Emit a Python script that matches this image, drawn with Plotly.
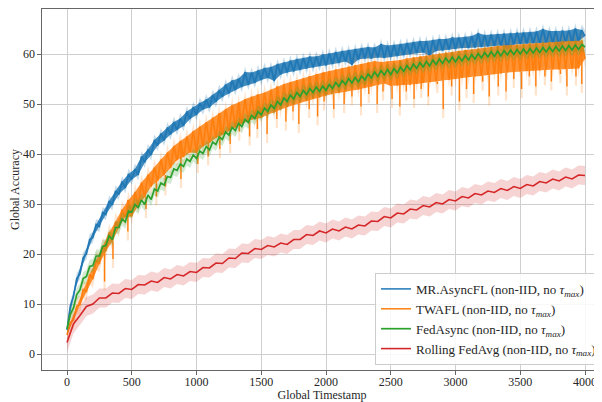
import plotly.graph_objects as go

# ---------------- data ----------------
t_fine = list(range(0, 4001, 25))     # timestamps for MR.AsyncFL, TWAFL, FedAsync
t_coarse = list(range(0, 4001, 50))   # timestamps for Rolling FedAvg

mr_asyncfl = [4.8, 9.5, 11.5, 15.1, 16.0, 19.3, 20.0, 22.9, 23.3, 25.9,
              25.5, 28.3, 27.9, 30.6, 29.8, 32.6, 31.9, 34.5, 33.2, 36.0,
              34.9, 37.0, 35.8, 39.5, 38.3, 40.9, 39.8, 42.8, 41.7, 44.1,
              42.7, 45.3, 43.9, 46.4, 44.8, 47.1, 45.6, 48.5, 47.0, 49.4,
              47.8, 50.2, 48.9, 50.9, 49.3, 51.8, 50.4, 52.8, 51.4, 53.9,
              52.1, 54.7, 52.8, 55.1, 53.4, 56.4, 53.8, 56.3, 54.2, 56.7,
              54.8, 57.2, 55.2, 57.4, 54.6, 58.0, 55.9, 58.3, 56.3, 58.7,
              56.5, 59.0, 56.8, 59.2, 57.1, 59.5, 57.3, 59.5, 57.6, 59.9,
              57.7, 60.1, 58.0, 60.4, 58.2, 60.6, 58.5, 60.8, 57.8, 61.0,
              58.9, 61.2, 59.1, 61.4, 59.1, 61.3, 59.3, 62.0, 59.2, 61.7,
              59.4, 61.8, 59.6, 62.0, 59.8, 62.2, 60.0, 62.4, 60.2, 62.6,
              60.3, 62.6, 59.6, 62.8, 60.6, 63.0, 60.7, 63.0, 60.9, 63.3,
              61.0, 63.3, 61.2, 63.4, 61.2, 63.6, 61.3, 64.2, 61.4, 63.8,
              61.5, 63.9, 61.6, 64.0, 61.7, 64.1, 61.0, 64.2, 61.9, 64.3,
              62.0, 64.3, 62.1, 64.4, 62.1, 64.5, 62.2, 65.0, 62.2, 64.6,
              62.3, 64.6, 61.5, 64.7, 62.4, 64.7, 62.4, 65.1, 62.5, 64.8,
              63.6]

twafl = [3.8, 6.3, 6.8, 9.6, 9.8, 13.0, 12.4, 15.9, 15.0, 18.8,
         18.0, 21.5, 20.6, 24.3, 22.5, 26.5, 25.2, 28.9, 27.4, 30.8,
         27.5, 32.4, 29.7, 34.3, 31.4, 35.9, 33.5, 37.3, 34.6, 38.9,
         35.8, 40.3, 37.2, 41.6, 38.8, 42.6, 39.4, 43.5, 40.3, 44.6,
         40.2, 45.5, 41.5, 46.4, 42.2, 47.3, 43.2, 48.2, 43.8, 49.0,
         44.6, 49.8, 45.3, 50.3, 46.0, 51.0, 46.6, 51.5, 47.0, 51.9,
         47.2, 52.3, 47.9, 52.9, 48.3, 53.5, 48.9, 54.0, 49.4, 54.4,
         49.8, 54.8, 50.2, 55.2, 50.6, 55.6, 51.0, 56.0, 51.3, 56.3,
         51.7, 56.6, 52.0, 56.9, 52.2, 57.2, 52.5, 57.5, 52.7, 57.8,
         52.9, 58.0, 53.2, 58.3, 53.5, 58.6, 53.7, 58.4, 54.1, 58.5,
         53.6, 58.6, 53.7, 58.8, 53.8, 59.1, 53.8, 59.3, 54.0, 59.5,
         54.2, 59.7, 54.3, 59.9, 54.5, 60.1, 54.7, 60.3, 54.8, 60.4,
         55.0, 60.6, 55.2, 60.8, 55.4, 60.9, 55.5, 61.1, 55.6, 61.3,
         55.8, 61.4, 56.0, 61.6, 56.1, 61.7, 56.3, 61.8, 56.4, 61.9,
         56.5, 62.0, 56.6, 62.1, 56.7, 62.2, 56.7, 62.3, 56.8, 62.4,
         56.9, 62.4, 56.9, 62.5, 57.0, 62.6, 57.1, 62.6, 57.1, 62.7,
         59.0]

# sharp downward dips of the TWAFL curve: timestamp and lowest accuracy
twafl_dip_t = [290, 355, 470, 610, 690, 760, 880, 1010, 1090, 1180, 1260, 1330, 1410, 1470,
               1545, 1620, 1690, 1745, 1790, 1870, 1935, 1985, 2060, 2140, 2200, 2270, 2330,
               2395, 2440, 2510, 2570, 2620, 2680, 2735, 2790, 2860, 2905, 2970, 3030, 3085,
               3140, 3210, 3260, 3330, 3390, 3450, 3510, 3570, 3620, 3690, 3740, 3810, 3860,
               3930, 3975]
twafl_dip_v = [14.5, 19.0, 24.5, 29.0, 31.5, 33.5, 35.0, 38.0, 39.5, 41.0, 42.0, 44.5, 43.5, 45.0,
               44.0, 47.0, 46.5, 48.5, 46.0, 49.0, 47.5, 50.5, 49.0, 50.0, 51.5, 49.5, 52.0,
               50.0, 52.5, 51.0, 49.5, 52.5, 51.0, 53.0, 51.5, 54.0, 49.0, 53.5, 50.5, 53.0,
               52.0, 54.5, 51.5, 53.5, 52.5, 55.0, 53.0, 55.5, 53.5, 55.5, 54.5, 56.0, 53.5,
               55.5, 54.0]

fedasync = [5.0, 7.9, 9.2, 11.9, 12.8, 15.1, 15.5, 17.5, 17.7, 19.6,
            19.6, 21.5, 21.7, 23.6, 22.9, 25.3, 25.3, 27.0, 26.4, 28.6,
            28.4, 29.9, 29.3, 30.8, 29.9, 31.8, 30.9, 33.0, 32.6, 34.2,
            33.8, 35.5, 35.3, 37.0, 36.7, 38.0, 37.5, 39.0, 38.5, 39.8,
            39.1, 40.6, 40.1, 41.5, 40.8, 42.4, 41.9, 43.4, 42.9, 44.4,
            43.8, 45.3, 44.7, 46.1, 45.5, 46.9, 46.3, 47.7, 47.1, 48.5,
            47.8, 49.2, 48.5, 49.8, 49.1, 50.5, 49.8, 51.2, 50.5, 51.8,
            51.0, 52.3, 51.5, 52.7, 51.9, 53.1, 52.3, 53.4, 52.5, 53.6,
            52.7, 53.9, 53.1, 54.3, 53.5, 54.7, 53.9, 55.1, 54.2, 55.3,
            54.4, 55.6, 54.8, 56.0, 55.2, 56.4, 55.5, 56.7, 55.8, 56.9,
            55.9, 57.1, 56.2, 57.4, 56.5, 57.7, 56.8, 58.0, 57.1, 58.3,
            57.4, 58.5, 57.6, 58.8, 57.9, 59.0, 58.1, 59.2, 58.3, 59.4,
            58.4, 59.5, 58.6, 59.7, 58.8, 59.9, 59.0, 60.1, 59.2, 60.3,
            59.4, 60.5, 59.5, 60.6, 59.6, 60.7, 59.8, 60.8, 59.9, 60.9,
            60.0, 61.0, 60.1, 61.1, 60.2, 61.2, 60.3, 61.3, 60.4, 61.4,
            60.5, 61.5, 60.6, 61.6, 60.7, 61.7, 60.8, 61.8, 60.9, 61.9,
            61.4]

rolling_fedavg = [2.3, 6.0, 7.7, 9.5, 10.0, 11.2, 11.2, 12.2, 12.1, 13.1, 12.9, 13.9, 13.8, 14.6, 14.3,
                  15.3, 15.0, 15.9, 15.6, 16.5, 16.3, 17.3, 17.2, 18.2, 18.1, 19.2, 19.1, 20.2, 20.1, 21.1,
                  20.9, 21.7, 21.4, 22.2, 21.9, 22.9, 22.9, 23.9, 23.7, 24.6, 24.2, 25.0, 24.6, 25.4, 25.0,
                  25.8, 25.6, 26.6, 26.5, 27.5, 27.2, 28.2, 28.0, 29.0, 28.8, 29.7, 29.4, 30.3, 30.0, 30.9,
                  30.6, 31.5, 31.2, 32.1, 31.8, 32.6, 32.3, 33.1, 32.7, 33.5, 33.1, 33.9, 33.6, 34.5, 34.2,
                  35.0, 34.6, 35.4, 35.0, 35.8, 35.7]

# spread (standard deviation) of each run
spread_mr = 1.1
spread_twafl = 1.8
spread_fedasync = 1.3
spread_rolling = 1.9

names = ["MR.AsyncFL (non-IID, no <i>τ</i><sub><i>max</i></sub>)",
         "TWAFL (non-IID, no <i>τ</i><sub><i>max</i></sub>)",
         "FedAsync (non-IID, no <i>τ</i><sub><i>max</i></sub>)",
         "Rolling FedAvg (non-IID, no <i>τ</i><sub><i>max</i></sub>)"]

x_ticks = [0, 500, 1000, 1500, 2000, 2500, 3000, 3500, 4000]
y_ticks = [0, 10, 20, 30, 40, 50, 60]

# ---------------- figure ----------------
colors = ["#1f77b4", "#ff7f0e", "#2ca02c", "#d62728"]
fills = ["rgba(31,119,180,0.25)", "rgba(255,127,14,0.2)", "rgba(44,160,44,0.22)", "rgba(214,39,40,0.2)"]
noise_fill = ["rgba(31,119,180,0.85)", "rgba(255,127,14,0.85)", None, None]

series = [
    (t_fine, mr_asyncfl, spread_mr, 1.5),
    (t_fine, twafl, spread_twafl, 1.5),
    (t_fine, fedasync, spread_fedasync, 1.7),
    (t_coarse, rolling_fedavg, spread_rolling, 1.6),
]

fig = go.Figure()
for k, (xs, ys, sd, lw) in enumerate(series):
    upper = [v + sd for v in ys]
    lower = [v - sd for v in ys]
    fig.add_trace(go.Scatter(x=xs, y=upper, mode="lines", line=dict(width=0, color=fills[k]),
                             showlegend=False, hoverinfo="skip"))
    fig.add_trace(go.Scatter(x=xs, y=lower, mode="lines", line=dict(width=0, color=fills[k]),
                             fill="tonexty", fillcolor=fills[k], showlegend=False, hoverinfo="skip"))
    if k == 1:
        # shaded extension of the dips
        sx, sy = [], []
        for t, v in zip(twafl_dip_t, twafl_dip_v):
            top = twafl[round(t / 25)]
            sx += [t, t, None]
            sy += [top, v - spread_twafl, None]
        fig.add_trace(go.Scatter(x=sx, y=sy, mode="lines", line=dict(width=2.2, color="rgba(255,127,14,0.22)"),
                                 showlegend=False, hoverinfo="skip", connectgaps=False))
    if noise_fill[k]:
        # the dense, noisy body of the curve: area between its low and high swings
        fig.add_trace(go.Scatter(x=xs[0::2], y=ys[0::2], mode="lines", line=dict(width=0),
                                 showlegend=False, hoverinfo="skip"))
        fig.add_trace(go.Scatter(x=xs[1::2], y=ys[1::2], mode="lines", line=dict(width=0),
                                 fill="tonexty", fillcolor=noise_fill[k],
                                 showlegend=False, hoverinfo="skip"))
    fig.add_trace(go.Scatter(x=xs, y=ys, mode="lines", name=names[k],
                             line=dict(color=colors[k], width=lw, simplify=False)))
    if k == 1:
        sx, sy = [], []
        for t, v in zip(twafl_dip_t, twafl_dip_v):
            top = twafl[round(t / 25)]
            sx += [t, t, None]
            sy += [top, v, None]
        fig.add_trace(go.Scatter(x=sx, y=sy, mode="lines", line=dict(width=1.4, color=colors[1]),
                                 showlegend=False, hoverinfo="skip", connectgaps=False))

font_family = "Liberation Serif, DejaVu Serif, serif"

# the page body adds an 8px offset, so the figure starts at (8, 8)
fig.update_layout(
    width=594, height=394,
    margin=dict(l=34, r=0, t=1, b=32),
    paper_bgcolor="white", plot_bgcolor="white",
    font=dict(family=font_family, size=12, color="#262626"),
    showlegend=True,
    legend=dict(x=1.0, y=0.014, xanchor="right", yanchor="bottom",
                traceorder="normal",
                bgcolor="rgba(255,255,255,0.85)", bordercolor="#cccccc", borderwidth=1,
                font=dict(family=font_family, size=13, color="#262626"),
                tracegroupgap=0, itemwidth=30),
)

fig.update_xaxes(
    range=[-193, 4131], tickvals=x_ticks, ticktext=[str(v) for v in x_ticks],
    showgrid=True, gridcolor="#cfcfcf", gridwidth=1, zeroline=False,
    showline=True, linecolor="#666666", linewidth=1.2, mirror=True,
    ticks="outside", ticklen=3.5, tickcolor="#666666", tickwidth=1,
    ticklabelstandoff=-3,
    title=dict(text="Global Timestamp", standoff=4, font=dict(size=12)),
    automargin=False,
)
fig.update_yaxes(
    range=[-3.2, 69.0], tickvals=y_ticks, ticktext=[str(v) for v in y_ticks],
    showgrid=True, gridcolor="#cfcfcf", gridwidth=1, zeroline=False,
    showline=True, linecolor="#666666", linewidth=1.2,
    ticks="outside", ticklen=3.5, tickcolor="#666666", tickwidth=1,
    title=dict(text="Global Accuracy", standoff=9, font=dict(size=12)),
    automargin=False,
)

fig.write_html("out.html")
